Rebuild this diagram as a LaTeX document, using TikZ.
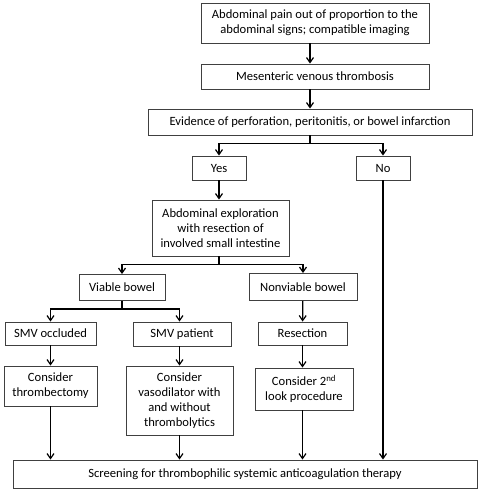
\documentclass[tikz,border=0pt]{standalone}
\usepackage{fontspec}
\setmainfont{Carlito}
\usepackage{tikz}
\usetikzlibrary{arrows.meta, positioning, calc}

\begin{document}
\begin{tikzpicture}[x=1pt, y=-1pt,
  block/.style={rectangle, draw=black!75, line width=0.9pt, align=center,
    inner sep=1pt, font=\fontsize{12.6}{15}\selectfont},
  arrow/.style={-{Straight Barb[length=5pt, width=7pt]}, line width=1.2pt},
  link/.style={line width=1.2pt},
]
\useasboundingbox (0,0) rectangle (480,491);

\node[block, minimum width=228pt, minimum height=40pt] (pain) at (315,23) {Abdominal pain out of proportion to the\\abdominal signs; compatible imaging};
\node[block, minimum width=228pt, minimum height=25pt] (mvt) at (315,76.5) {Mesenteric venous thrombosis};
\node[block, minimum width=324pt, minimum height=26pt] (evid) at (310,122) {Evidence of perforation, peritonitis, or bowel infarction};
\node[block, minimum width=54pt, minimum height=24pt] (yes) at (219,168) {Yes};
\node[block, minimum width=54pt, minimum height=24pt] (no) at (383,168) {No};
\node[block, minimum width=137pt, minimum height=56pt] (explor) at (220.5,228) {Abdominal exploration\\with resection of\\involved small intestine};
\node[block, minimum width=86pt, minimum height=26pt] (viable) at (122,287.5) {Viable bowel};
\node[block, minimum width=108pt, minimum height=27pt] (nonviable) at (303,287) {Nonviable bowel};
\node[block, minimum width=91pt, minimum height=23pt] (occluded) at (50.5,333.5) {SMV occluded};
\node[block, minimum width=98pt, minimum height=24pt] (patient) at (182,334) {SMV patient};
\node[block, minimum width=89pt, minimum height=23pt] (resection) at (302.5,333.5) {Resection};
\node[block, minimum width=93pt, minimum height=40pt] (thromb) at (50.5,386) {Consider\\thrombectomy};
\node[block, minimum width=107pt, minimum height=69pt] (vaso) at (179.5,400.5) {Consider\\vasodilator with\\and without\\thrombolytics};
\node[block, minimum width=98pt, minimum height=42pt] (second) at (304,389) {Consider 2\textsuperscript{nd}\\look procedure};
\node[block, minimum width=464pt, minimum height=28pt] (screen) at (245,474) {Screening for thrombophilic systemic anticoagulation therapy};

% main trunk
\draw[arrow] (pain.south -| evid.north) -- (mvt.north -| evid.north);
\draw[arrow] (mvt.south -| evid.north) -- (evid.north);

% yes / no split
\draw[link] (evid.south) -- ++(0,8) coordinate (split);
\draw[arrow] (split) -| (yes.north);
\draw[arrow] (split) -| (no.north);
\draw[arrow] (yes) -- (yes |- explor.north);
\draw[arrow] (no.south) -- (no.south |- screen.north);

% bowel split
\draw[link] (explor.south -| yes) -- ++(0,8) coordinate (bowel);
\draw[arrow] (bowel) -| (viable.north);
\draw[arrow] (bowel) -| (nonviable.north);

% SMV split
\draw[link] (viable.south) -- ++(0,8) coordinate (smv);
\draw[arrow] (smv) -| (occluded.north -| thromb);
\draw[arrow] (smv) -| (patient.north -| vaso);

\draw[arrow] (nonviable) -- (resection);
\draw[arrow] (occluded) -- (thromb);
\draw[arrow] (patient.south -| vaso) -- (vaso);
\draw[arrow] (resection) -- (resection |- second.north);

% to screening
\draw[arrow] (thromb) -- (thromb |- screen.north);
\draw[arrow] (vaso) -- (vaso |- screen.north);
\draw[arrow] (second.south -| resection) -- (resection |- screen.north);

\end{tikzpicture}
\end{document}
